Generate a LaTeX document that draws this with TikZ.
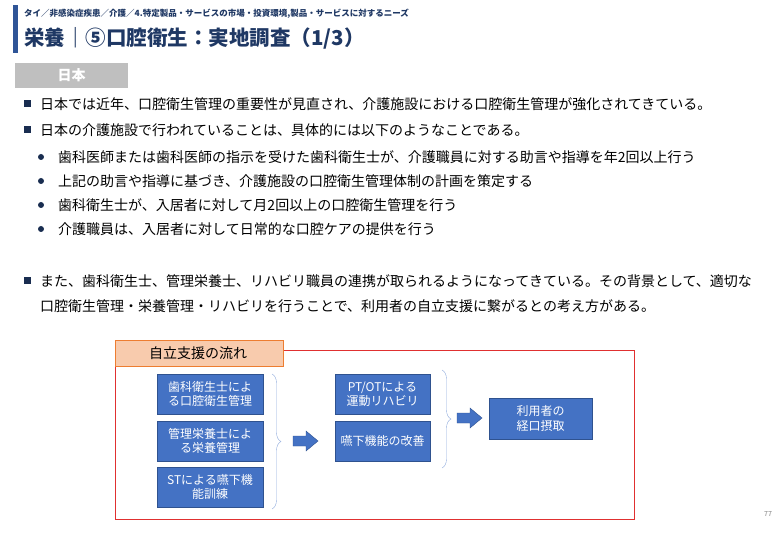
\documentclass[tikz,border=0pt]{standalone}
\usepackage{fontspec}
\setmainfont{Noto Sans CJK JP}
\usepackage{xcolor}
\usetikzlibrary{decorations.pathreplacing}
\definecolor{navy}{HTML}{1F3864}
\definecolor{barblue}{HTML}{2F5597}
\definecolor{boxblue}{HTML}{4472C4}
\definecolor{boxline}{HTML}{2F528F}
\definecolor{frame}{HTML}{E03030}
\definecolor{tagfill}{HTML}{F8CBAD}
\definecolor{tagline}{HTML}{ED7D31}
\definecolor{brace}{HTML}{8FAADC}
\tikzset{
  flowbox/.style={draw=boxline,fill=boxblue,text=white,font=\fontsize{12}{14.5}\selectfont,align=center,inner sep=0pt},
  bigarrow/.style={draw=boxline,fill=boxblue},
  curly/.style={draw=brace,decorate,decoration={brace,amplitude=9pt}},
  txt/.style={anchor=west,font=\fontsize{14}{16}\selectfont,inner sep=0pt}
}
\newcommand{\blockarrow}[3]{% x, y of tail centre, length
  \draw[bigarrow] (#1,#2-5) -- (#1+#3-12,#2-5) -- (#1+#3-12,#2-10) -- (#1+#3,#2)
    -- (#1+#3-12,#2+10) -- (#1+#3-12,#2+5) -- (#1,#2+5) -- cycle;}
\begin{document}
\begin{tikzpicture}[x=1pt,y=-1pt]
\useasboundingbox (0,0) rectangle (780,540);
% header
\fill[barblue] (13,5) rectangle (18,53);
\node[anchor=west,text=navy,font=\fontsize{8.5}{10}\selectfont\bfseries,inner sep=0pt] (crumb) at (24,14) {タイ／非感染症疾患／介護／4.特定製品・サービスの市場・投資環境,製品・サービスに対するニーズ};
\node[anchor=west,text=navy,font=\fontsize{20.5}{23}\selectfont\bfseries,inner sep=0pt] (title) at (24,38) {栄養｜⑤口腔衛生：実地調査（1/3）};
\node[fill=gray!50,text=white,font=\fontsize{14}{16}\selectfont\bfseries,minimum width=113pt,minimum height=25pt,inner sep=0pt] (japan) at (71.5,75.5) {日本};
% text
\fill[navy!80!black] (24,100) rectangle (31,107);
\node[txt] (l1) at (40,104) {日本では近年、口腔衛生管理の重要性が見直され、介護施設における口腔衛生管理が強化されてきている。};
\fill[navy!80!black] (24,126) rectangle (31,133);
\node[txt] (l2) at (40,130) {日本の介護施設で行われていることは、具体的には以下のようなことである。};
\foreach \y/\s in {157/歯科医師または歯科医師の指示を受けた歯科衛生士が、介護職員に対する助言や指導を年2回以上行う,
                   181/上記の助言や指導に基づき、介護施設の口腔衛生管理体制の計画を策定する,
                   205/歯科衛生士が、入居者に対して月2回以上の口腔衛生管理を行う,
                   229/介護職員は、入居者に対して日常的な口腔ケアの提供を行う}{
  \fill[navy!80!black] (41,\y) circle (3pt);
  \node[txt] at (58,\y) {\s};
}
\fill[navy!80!black] (24,277) rectangle (31,284);
\node[txt] (l3) at (40,281) {また、歯科衛生士、管理栄養士、リハビリ職員の連携が取られるようになってきている。その背景として、適切な};
\node[txt] (l4) at (40,306) {口腔衛生管理・栄養管理・リハビリを行うことで、利用者の自立支援に繋がるとの考え方がある。};
% flow
\draw[frame,line width=1pt] (115,351) rectangle (634,519);
\node[draw=tagline,fill=tagfill,anchor=north west,minimum width=168pt,minimum height=26pt,inner sep=0pt] (tag) at (115,340) {};
\node[anchor=west,font=\fontsize{14}{16}\selectfont,inner sep=0pt] at (149,353) {自立支援の流れ};
\node[flowbox,minimum width=106pt,minimum height=40pt] (a1) at (210,394) {歯科衛生士によ\\る口腔衛生管理};
\node[flowbox,minimum width=106pt,minimum height=40pt] (a2) at (210,441) {管理栄養士によ\\る栄養管理};
\node[flowbox,minimum width=106pt,minimum height=40pt] (a3) at (210,487) {STによる嚥下機\\能訓練};
\draw[curly] (272,374) -- (272,509);
\blockarrow{293}{441}{25}
\node[flowbox,minimum width=95pt,minimum height=40pt] (b1) at (382.5,394) {PT/OTによる\\運動リハビリ};
\node[flowbox,minimum width=95pt,minimum height=40pt] (b2) at (382.5,441) {嚥下機能の改善};
\draw[curly] (442,370) -- (442,468);
\blockarrow{457}{418}{25}
\node[flowbox,minimum width=103pt,minimum height=41pt] (c1) at (540.5,418.5) {利用者の\\経口摂取};
\node[text=gray,font=\fontsize{7}{8}\selectfont] (page) at (768,514) {77};
\end{tikzpicture}
\end{document}
